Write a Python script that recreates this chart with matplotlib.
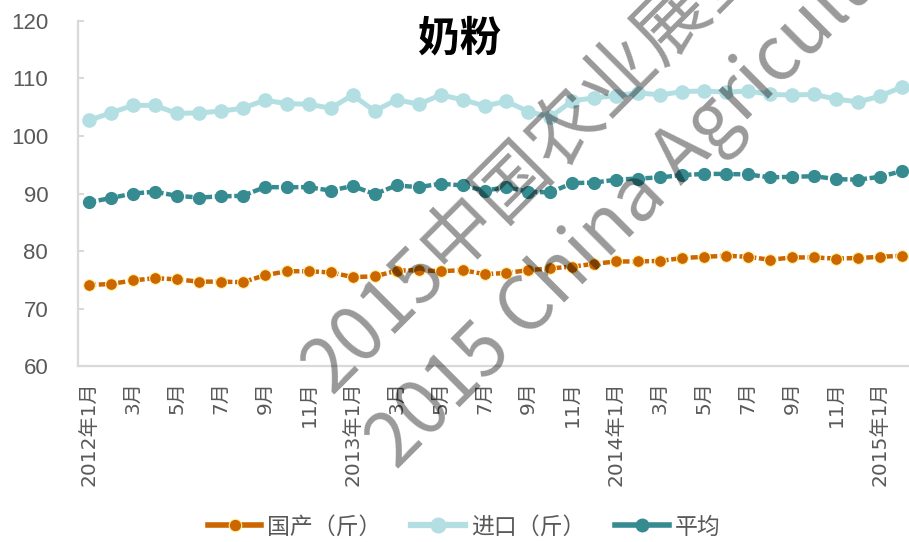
import matplotlib
matplotlib.use("Agg")
import matplotlib.pyplot as plt
from matplotlib.lines import Line2D

# ---- data ----
months = ["2012年1月", "2月", "3月", "4月", "5月", "6月", "7月", "8月", "9月", "10月", "11月", "12月",
          "2013年1月", "2月", "3月", "4月", "5月", "6月", "7月", "8月", "9月", "10月", "11月", "12月",
          "2014年1月", "2月", "3月", "4月", "5月", "6月", "7月", "8月", "9月", "10月", "11月", "12月",
          "2015年1月", "2月"]
domestic = [74.1, 74.3, 74.9, 75.3, 75.1, 74.7, 74.7, 74.6, 75.8, 76.5, 76.5, 76.3,
            75.5, 75.6, 76.6, 76.7, 76.5, 76.7, 76.0, 76.2, 76.7, 77.0, 77.3, 77.8,
            78.2, 78.2, 78.3, 78.8, 79.0, 79.2, 79.0, 78.5, 78.9, 78.9, 78.7, 78.8,
            79.0, 79.2]
imported = [102.7, 104.0, 105.3, 105.3, 103.9, 104.0, 104.3, 104.8, 106.2, 105.6, 105.5, 104.8,
            107.1, 104.3, 106.3, 105.5, 107.1, 106.3, 105.2, 106.0, 104.2, 103.3, 106.1, 106.6,
            107.0, 107.5, 107.1, 107.7, 107.8, 107.6, 107.8, 107.2, 107.1, 107.2, 106.4, 105.9,
            106.9, 108.5]
average = [88.5, 89.2, 90.0, 90.3, 89.6, 89.3, 89.5, 89.6, 91.1, 91.1, 91.1, 90.5,
           91.3, 89.9, 91.4, 91.1, 91.7, 91.4, 90.5, 91.1, 90.3, 90.2, 91.8, 91.9,
           92.4, 92.6, 92.8, 93.2, 93.4, 93.4, 93.3, 92.8, 92.9, 93.0, 92.5, 92.4,
           92.9, 93.9]
series_names = ["国产（斤）", "进口（斤）", "平均"]
title = "奶粉"
yticks = [60, 70, 80, 90, 100, 110, 120]
watermark1 = "2015中国农业展望"
watermark2 = "2015 China Agricultural Outlook"

# ---- style ----
c_dom = "#CC6600"
c_imp = "#B3DFE3"
c_avg = "#368B90"
grey_txt = "#595959"
axis_col = "#D9D9D9"
cjk = ["Noto Sans CJK SC", "DejaVu Sans"]

fig = plt.figure(figsize=(9.09, 5.42), dpi=100)
ax = fig.add_axes([78 / 909, 1 - 366.3 / 542, 835 / 909, (366.3 - 20.7) / 542])

x = list(range(len(months)))
dash = (0, (1.6, 0.6))
ax.plot(x, domestic, color=c_dom, lw=3.2, linestyle=dash, dash_capstyle="butt",
        marker="o", markersize=8.5, markerfacecolor=c_dom, markeredgecolor="#FFF2A0",
        markeredgewidth=0.8, zorder=3)
ax.plot(x, imported, color=c_imp, lw=3.6, solid_capstyle="round",
        marker="o", markersize=9.5, markerfacecolor=c_imp, markeredgecolor=c_imp, zorder=3)
ax.plot(x, average, color=c_avg, lw=3.2, linestyle=dash, dash_capstyle="butt",
        marker="o", markersize=8.5, markerfacecolor=c_avg, markeredgecolor=c_avg, zorder=3)

ax.set_xlim(-0.5, len(months) - 0.5)
ax.set_ylim(60, 120)
ax.set_yticks(yticks)
ax.set_yticklabels([str(v) for v in yticks], fontsize=16, color=grey_txt,
                   family=["Liberation Sans", "DejaVu Sans"])
ax.tick_params(axis="y", direction="in", length=4.5, width=1.5, color=axis_col, pad=21.5)

tick_pos = x[::2]
ax.set_xticks(tick_pos)
ax.set_xticklabels([months[i] for i in tick_pos], rotation=90, fontsize=14.5, color=grey_txt,
                   family=["DejaVu Sans", "Noto Sans CJK SC"], va="top", ha="center")
ax.tick_params(axis="x", length=0, pad=11)

for s in ["top", "right"]:
    ax.spines[s].set_visible(False)
for s in ["left", "bottom"]:
    ax.spines[s].set_color(axis_col)
    ax.spines[s].set_linewidth(1.6)

fig.text(460 / 909, 1 - 38 / 542, title, ha="center", va="center", fontsize=30,
         fontweight="bold", family=cjk, color="black")

handles = [
    Line2D([], [], color=c_dom, lw=4, marker="o", markersize=9, markerfacecolor=c_dom,
           markeredgecolor="#FFF2A0", markeredgewidth=0.8),
    Line2D([], [], color=c_imp, lw=4.5, marker="o", markersize=10.5, markerfacecolor=c_imp,
           markeredgecolor=c_imp),
    Line2D([], [], color=c_avg, lw=4, marker="o", markersize=9, markerfacecolor=c_avg,
           markeredgecolor=c_avg),
]
leg = fig.legend(handles=handles, labels=series_names, loc="center",
                 bbox_to_anchor=(464 / 909, 1 - 527 / 542),
                 ncol=3, frameon=False, handlelength=2.35, handletextpad=0.25, columnspacing=1.3,
                 prop={"family": cjk, "size": 16.5})
for t in leg.get_texts():
    t.set_color(grey_txt)

# watermark
fig.text(332 / 909, 1 - 396 / 542, watermark1, rotation=45, rotation_mode="anchor",
         ha="left", va="baseline", fontsize=54, family=cjk, color="black", alpha=0.4, zorder=10)
fig.text(397 / 909, 1 - 471 / 542, watermark2, rotation=45, rotation_mode="anchor",
         ha="left", va="baseline", fontsize=54, family=cjk, color="black", alpha=0.4, zorder=10)

fig.savefig("out.png", dpi=100)
